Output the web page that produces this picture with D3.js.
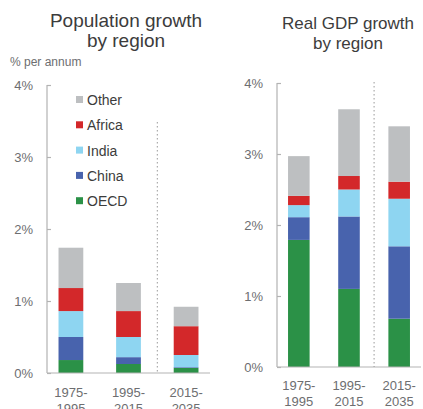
<!DOCTYPE html>
<html><head><meta charset="utf-8">
<script src="https://cdn.jsdelivr.net/npm/d3@7"></script>
<style>body{margin:0;background:#fff;font-family:"Liberation Sans",Arial,sans-serif}</style>
</head><body><svg id="c" width="423" height="409"></svg>
<script>
const periods = ["1975-1995", "1995-2015", "2015-2035"];
const regions = ["OECD", "China", "India", "Africa", "Other"];
const colors = ["#2b9147", "#4863ad", "#8ed5f1", "#d3282a", "#bdbfc1"];
// Population growth, % per annum (contributions)
const popOECD = [0.18, 0.125, 0.07];
const popChina = [0.32, 0.095, 0.01];
const popIndia = [0.36, 0.28, 0.17];
const popAfrica = [0.32, 0.36, 0.40];
const popOther = [0.56, 0.39, 0.27];
// Real GDP growth, % per annum (contributions)
const gdpOECD = [1.79, 1.10, 0.68];
const gdpChina = [0.32, 1.02, 1.02];
const gdpIndia = [0.17, 0.38, 0.67];
const gdpAfrica = [0.13, 0.19, 0.24];
const gdpOther = [0.56, 0.94, 0.78];
const yTicks = [0, 1, 2, 3, 4];
const legendOrder = ["Other", "Africa", "India", "China", "OECD"];

const svg = d3.select("#c");
const axisCol = "#b3b3b3", tickTxt = "#6d6e70", titleCol = "#3c3c3c";

function panel(opts, series) {
  const rows = periods.map((p, i) => {
    const o = {period: p};
    regions.forEach((r, k) => o[r] = series[k][i]);
    return o;
  });
  const stack = d3.stack().keys(regions)(rows);
  const y = d3.scaleLinear().domain([0, 4]).range([opts.y0, opts.y4]);
  const x = d3.scaleBand().domain(periods).range([opts.xL, opts.xR]).paddingInner(opts.pi).paddingOuter(opts.po);
  const g = svg.append("g");
  g.selectAll("g.s").data(stack).join("g").attr("fill", (d, i) => colors[i])
    .selectAll("rect").data(d => d).join("rect")
    .attr("x", d => x(d.data.period)).attr("width", x.bandwidth())
    .attr("y", d => y(d[1])).attr("height", d => y(d[0]) - y(d[1]));
  // axis
  const ax = g.append("g").attr("transform", `translate(${opts.xL},0)`)
    .call(d3.axisLeft(y).tickValues(yTicks).tickFormat(d => d + "%").tickSize(-4).tickPadding(opts.tp));
  ax.select(".domain").remove();
  ax.selectAll("line").attr("stroke", axisCol).attr("stroke-width", 1.2);
  ax.selectAll("text").attr("fill", tickTxt).attr("font-size", 13).attr("font-family", "Liberation Sans, Arial, sans-serif");
  g.append("line").attr("x1", opts.xL).attr("x2", opts.xL).attr("y1", y(4)).attr("y2", y(0)).attr("stroke", axisCol).attr("stroke-width", 1.2);
  g.append("line").attr("x1", opts.xL).attr("x2", opts.xR).attr("y1", y(0)).attr("y2", y(0)).attr("stroke", axisCol).attr("stroke-width", 1.2);
  // divider
  const dx = (x(periods[1]) + x.bandwidth() + x(periods[2])) / 2;
  g.append("line").attr("x1", dx).attr("x2", dx).attr("y1", opts.divTop).attr("y2", y(0))
    .attr("stroke", "#9a9a9a").attr("stroke-dasharray", "1.5,2.5").attr("stroke-width", 1);
  // category labels
  periods.forEach(p => {
    const [a, b] = p.split("-");
    const t = g.append("text").attr("x", x(p) + x.bandwidth() / 2).attr("text-anchor", "middle")
      .attr("fill", tickTxt).attr("font-size", 13);
    t.append("tspan").attr("x", x(p) + x.bandwidth() / 2).attr("y", opts.lab1).text(a + "-");
    t.append("tspan").attr("x", x(p) + x.bandwidth() / 2).attr("y", opts.lab2).text(b);
  });
  // title
  opts.title.forEach((s, i) => {
    g.append("text").attr("x", opts.tx).attr("y", opts.ty[i]).attr("text-anchor", "middle")
      .attr("fill", titleCol).attr("font-size", opts.tfs).text(s);
  });
  return {x, y};
}

panel({y0: 373, y4: 85, xL: 47, xR: 210, pi: 0.57, po: 0.2, tp: 14, divTop: 122,
  lab1: 397, lab2: 413, title: ["Population growth", "by region"], tx: 126, ty: [27, 47], tfs: 19},
  [popOECD, popChina, popIndia, popAfrica, popOther]);
panel({y0: 367, y4: 83, xL: 277, xR: 421, pi: 0.57, po: 0.22, tp: 14, divTop: 82,
  lab1: 390, lab2: 406, title: ["Real GDP growth", "by region"], tx: 348, ty: [29, 49], tfs: 17},
  [gdpOECD, gdpChina, gdpIndia, gdpAfrica, gdpOther]);

svg.append("text").attr("x", 10).attr("y", 66).attr("fill", tickTxt).attr("font-size", 12).text("% per annum");

// legend
const leg = svg.append("g");
legendOrder.forEach((r, i) => {
  const yy = 100 + i * 25.3;
  leg.append("rect").attr("x", 76).attr("y", yy - 4).attr("width", 7).attr("height", 7).attr("fill", colors[regions.indexOf(r)]);
  leg.append("text").attr("x", 87).attr("y", yy + 5).attr("fill", "#3c3c3c").attr("font-size", 14).text(r);
});
</script></body></html>
